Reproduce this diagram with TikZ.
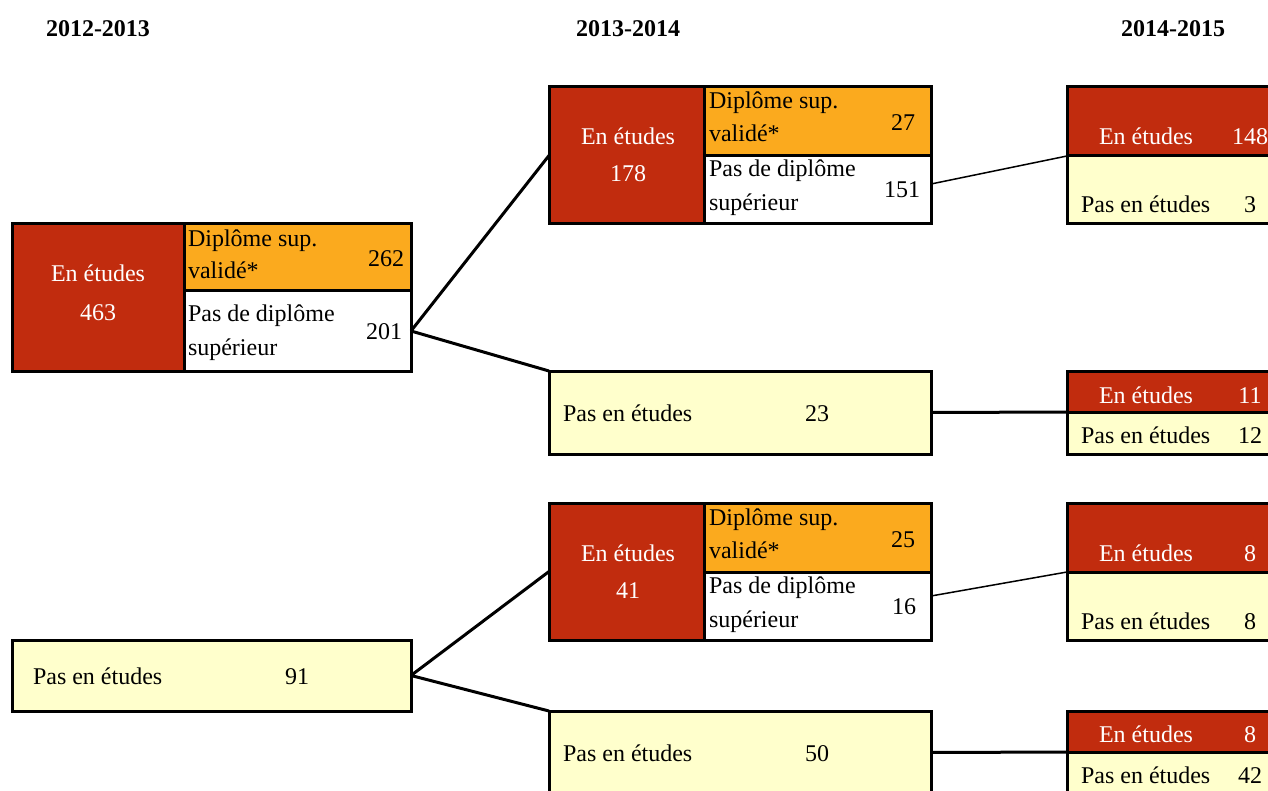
\documentclass[tikz,border=0pt]{standalone}
\usepackage{fontspec}
\setmainfont{Liberation Serif}
\definecolor{cred}{RGB}{193,44,14}
\definecolor{corange}{RGB}{251,170,30}
\definecolor{cyellow}{RGB}{255,255,204}
\begin{document}
\begin{tikzpicture}[x=1pt,y=-1pt,
  cell/.style={draw=black, line width=3pt, rectangle, inner sep=0pt, outer sep=0pt},
  txt/.style={inner sep=0pt, outer sep=0pt, font=\fontsize{24}{28}\selectfont},
  wtxt/.style={txt, text=white},
  head/.style={txt, font=\fontsize{24}{28}\selectfont\bfseries},
  conn/.style={line width=3pt},
  thinconn/.style={line width=1.5pt}]
\useasboundingbox (0,0) rectangle (1268,791);
\clip (0,0) rectangle (1268,791);

% headings
\node[head, anchor=base] (h1) at (98,37) {2012-2013};
\node[head, anchor=base] (h2) at (628,37) {2013-2014};
\node[head, anchor=base] (h3) at (1173,37) {2014-2015};

% ---- Box A (2012 En etudes 463)
\node[cell, fill=cred, minimum width=172pt, minimum height=147pt] (Ar) at (98,297.5) {};
\node[cell, fill=corange, minimum width=227pt, minimum height=67pt] (Ao) at (297.5,257.5) {};
\node[cell, fill=white, minimum width=227pt, minimum height=80pt] (Aw) at (297.5,331) {};
\node[wtxt, anchor=base] (Ar1) at (98,282) {En études};
\node[wtxt, anchor=base] (Ar2) at (98,320) {463};
\node[txt, anchor=base west] (Ao1) at (188,247) {Diplôme sup.};
\node[txt, anchor=base west] (Ao2) at (188,279) {validé*};
\node[txt, anchor=base east] (Ao3) at (404,267) {262};
\node[txt, anchor=base west] (Aw1) at (188,322) {Pas de diplôme};
\node[txt, anchor=base west] (Aw2) at (188,355) {supérieur};
\node[txt, anchor=base east] (Aw3) at (402,340) {201};

% ---- Box F (2012 Pas en etudes 91)
\node[cell, fill=cyellow, minimum width=399pt, minimum height=71pt] (F) at (211.5,675.5) {};
\node[txt, anchor=base west] (F1) at (33,684) {Pas en études};
\node[txt, anchor=base] (F2) at (297,684) {91};

% ---- Box B (2013 En etudes 178)
\node[cell, fill=cred, minimum width=155pt, minimum height=137pt] (Br) at (626.5,155.5) {};
\node[cell, fill=corange, minimum width=227pt, minimum height=69pt] (Bo) at (817.5,121.5) {};
\node[cell, fill=white, minimum width=227pt, minimum height=68pt] (Bw) at (817.5,190) {};
\node[wtxt, anchor=base] (Br1) at (628,145) {En études};
\node[wtxt, anchor=base] (Br2) at (628,182) {178};
\node[txt, anchor=base west] (Bo1) at (709,109) {Diplôme sup.};
\node[txt, anchor=base west] (Bo2) at (709,142) {validé*};
\node[txt, anchor=base east] (Bo3) at (915,131) {27};
\node[txt, anchor=base west] (Bw1) at (709,177) {Pas de diplôme};
\node[txt, anchor=base west] (Bw2) at (709,211) {supérieur};
\node[txt, anchor=base east] (Bw3) at (920,198) {151};

% ---- Box C (2013 Pas en etudes 23)
\node[cell, fill=cyellow, minimum width=382pt, minimum height=83pt] (C) at (740,412.5) {};
\node[txt, anchor=base west] (C1) at (563,421) {Pas en études};
\node[txt, anchor=base] (C2) at (817,421) {23};

% ---- Box D (2013 En etudes 41)
\node[cell, fill=cred, minimum width=155pt, minimum height=137pt] (Dr) at (626.5,571.5) {};
\node[cell, fill=corange, minimum width=227pt, minimum height=69pt] (Do) at (817.5,537.5) {};
\node[cell, fill=white, minimum width=227pt, minimum height=68pt] (Dw) at (817.5,606) {};
\node[wtxt, anchor=base] (Dr1) at (628,561) {En études};
\node[wtxt, anchor=base] (Dr2) at (628,598) {41};
\node[txt, anchor=base west] (Do1) at (709,525) {Diplôme sup.};
\node[txt, anchor=base west] (Do2) at (709,558) {validé*};
\node[txt, anchor=base east] (Do3) at (915,547) {25};
\node[txt, anchor=base west] (Dw1) at (709,593) {Pas de diplôme};
\node[txt, anchor=base west] (Dw2) at (709,627) {supérieur};
\node[txt, anchor=base east] (Dw3) at (916,614) {16};

% ---- Box E (2013 Pas en etudes 50)
\node[cell, fill=cyellow, minimum width=382pt, minimum height=83pt] (E) at (740,752.5) {};
\node[txt, anchor=base west] (E1) at (563,761) {Pas en études};
\node[txt, anchor=base] (E2) at (817,761) {50};

% ---- Right column
\node[cell, fill=cred, minimum width=223pt, minimum height=69pt] (R1r) at (1178.5,121.5) {};
\node[cell, fill=cyellow, minimum width=223pt, minimum height=68pt] (R1y) at (1178.5,190) {};
\node[wtxt, anchor=base] (R1a) at (1146,145) {En études};
\node[wtxt, anchor=base] (R1b) at (1250,145) {148};
\node[txt, anchor=base west] (R1c) at (1081,213) {Pas en études};
\node[txt, anchor=base] (R1d) at (1250,213) {3};

\node[cell, fill=cred, minimum width=223pt, minimum height=41pt] (R2r) at (1178.5,391.5) {};
\node[cell, fill=cyellow, minimum width=223pt, minimum height=42pt] (R2y) at (1178.5,433) {};
\node[wtxt, anchor=base] (R2a) at (1146,403) {En études};
\node[wtxt, anchor=base] (R2b) at (1250,403) {11};
\node[txt, anchor=base west] (R2c) at (1081,443) {Pas en études};
\node[txt, anchor=base] (R2d) at (1250,443) {12};

\node[cell, fill=cred, minimum width=223pt, minimum height=69pt] (R3r) at (1178.5,537.5) {};
\node[cell, fill=cyellow, minimum width=223pt, minimum height=68pt] (R3y) at (1178.5,606) {};
\node[wtxt, anchor=base] (R3a) at (1146,561) {En études};
\node[wtxt, anchor=base] (R3b) at (1250,561) {8};
\node[txt, anchor=base west] (R3c) at (1081,629) {Pas en études};
\node[txt, anchor=base] (R3d) at (1250,629) {8};

\node[cell, fill=cred, minimum width=223pt, minimum height=41pt] (R4r) at (1178.5,731.5) {};
\node[cell, fill=cyellow, minimum width=223pt, minimum height=42pt] (R4y) at (1178.5,773) {};
\node[wtxt, anchor=base] (R4a) at (1146,742) {En études};
\node[wtxt, anchor=base] (R4b) at (1250,742) {8};
\node[txt, anchor=base west] (R4c) at (1081,783) {Pas en études};
\node[txt, anchor=base] (R4d) at (1250,783) {42};

% ---- connectors
\draw[conn] (Aw.east) -- (Br.west);
\draw[conn] (Aw.east) -- (C.north west);
\draw[conn] (F.east) -- (Dr.west);
\draw[conn] (F.east) -- (E.north west);
\draw[thinconn] ([yshift=6pt]Bw.east) -- (R1r.south west);
\draw[thinconn] ([yshift=10pt]Dw.east) -- (R3r.south west);
\draw[conn] (C.east) -- (R2r.south west);
\draw[conn] (E.east) -- (R4r.south west);
\end{tikzpicture}
\end{document}
